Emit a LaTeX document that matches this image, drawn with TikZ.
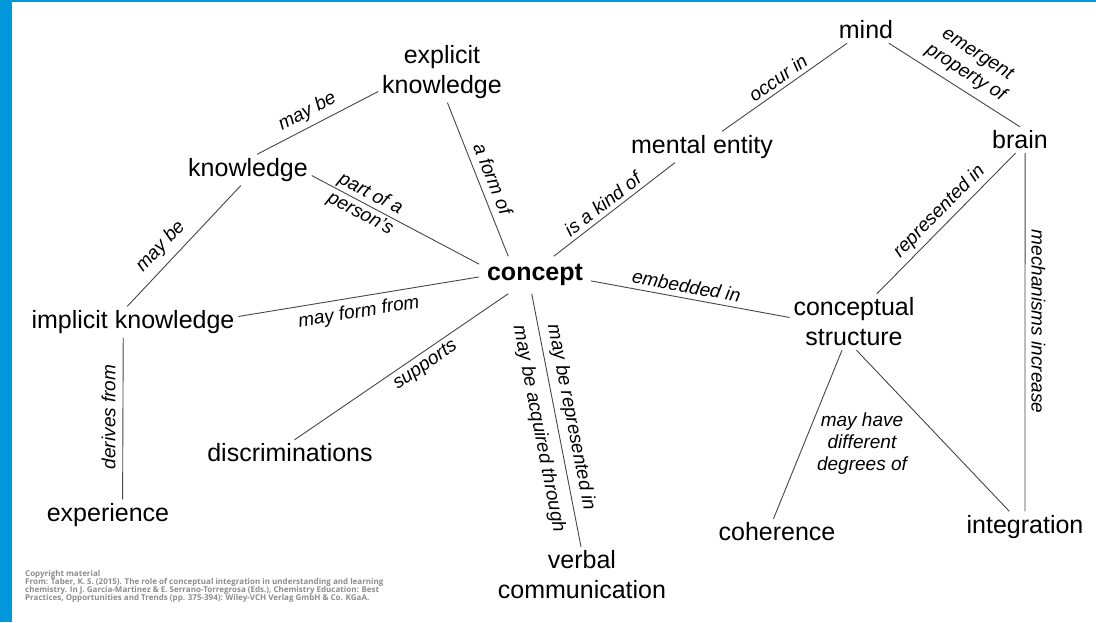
\documentclass[tikz,border=0pt]{standalone}
\usepackage{fontspec}
\setmainfont{Liberation Sans}
\newfontfamily\noteFont{Open Sans}
\usepackage{tikz,tkz-graph}
\definecolor{frameBlue}{RGB}{0,152,219}
\definecolor{lineGray}{RGB}{70,70,70}
\definecolor{noteGray}{RGB}{140,140,140}
\newcommand{\conceptSize}{\fontsize{25}{30}\selectfont}
\newcommand{\linkSize}{\fontsize{19}{22}\selectfont}
\tikzstyle{conceptBox}=[shape = rectangle, inner sep = 4pt, align = center, font = \conceptSize]
\tikzstyle{mainConcept}=[shape = rectangle, inner sep = 8pt, align = center, font = \conceptSize\bfseries]
\tikzstyle{linkText}=[font = \linkSize\itshape, inner sep = 4pt, fill = none, text = black]

\begin{document}
\begin{tikzpicture}[x = 1pt, y = 1pt]
\tikzstyle{VertexStyle} = []
\tikzstyle{EdgeStyle} = [draw = lineGray, line width = 0.9pt]
\tikzstyle{LabelStyle} = []
\useasboundingbox (0,0) rectangle (1096,622);
\fill[frameBlue] (0,0) rectangle (12,622);
\fill[frameBlue] (0,620) rectangle (1096,622);
\Vertex[style = conceptBox, x = 442, y = 550, L = {explicit\\knowledge}]{expl}
\Vertex[style = conceptBox, x = 248, y = 452, L = {knowledge}]{knw}
\Vertex[style = conceptBox, x = 133, y = 300, L = {implicit knowledge}]{impl}
\Vertex[style = conceptBox, x = 108, y = 107, L = {experience}]{exper}
\Vertex[style = conceptBox, x = 290, y = 169, L = {discriminations}]{discr}
\Vertex[style = mainConcept, x = 535, y = 347, L = {concept}]{conc}
\Vertex[style = conceptBox, x = 582, y = 47, L = {verbal\\communication}]{verb}
\Vertex[style = conceptBox, x = 702, y = 475, L = {mental entity}]{ment}
\Vertex[style = conceptBox, x = 866, y = 592, L = {mind}]{mind}
\Vertex[style = conceptBox, x = 1020, y = 482, L = {brain}]{brain}
\Vertex[style = conceptBox, x = 854, y = 300, L = {conceptual\\structure}]{cstr}
\Vertex[style = conceptBox, x = 777, y = 90, L = {coherence}]{coher}
\Vertex[style = conceptBox, x = 1025, y = 95, L = {integration}]{integ}
\Edge[label = {may be}, labelstyle = {linkText, sloped, above = 1pt, pos = .47}](knw.60)(expl.197)
\Edge[label = {may be}, labelstyle = {linkText, sloped, above = 3pt, pos = .6}](knw.245)(impl.110)
\Edge[label = {part of a\\person's}, labelstyle = {linkText, sloped, align = center, pos = .32}](knw.-5)(conc.169)
\Edge[label = {a form of}, labelstyle = {linkText, sloped, above = 3pt, pos = .53}](expl.-80)(conc.145)
\Edge[label = {may form from}, labelstyle = {linkText, sloped, below = 2.5pt, pos = .49}](impl.3)(conc.182)
\Edge[label = {derives from}, labelstyle = {linkText, rotate = 90, anchor = south, inner sep = 7pt, pos = .49}](impl.238)(exper.47)
\Edge[label = {supports}, labelstyle = {linkText, sloped, below = 0pt, pos = .58}](discr.71)(conc.215)
\Edge[label = {may be represented in}, labelstyle = {linkText, sloped, above = 1.5pt, pos = .5}](conc.260)(verb.92)
\path (conc.260) -- node[linkText, sloped, below = 6pt, pos = .52] (acqText) {may be acquired through} (verb.92);
\Edge[label = {is a kind of}, labelstyle = {linkText, sloped, above = 0pt, pos = .46}](conc.45)(ment.210)
\Edge[label = {occur in}, labelstyle = {linkText, sloped, above = 0pt, pos = .5}](ment.38)(mind.215)
\Edge[label = {emergent\\property of}, labelstyle = {linkText, sloped, align = center, above = 3pt, pos = .52}](mind.-30)(brain.90)
\Edge[label = {embedded in}, labelstyle = {linkText, sloped, above = 1pt, pos = .47}](conc.-6)(cstr.176)
\Edge[label = {represented in}, labelstyle = {linkText, sloped, above = 0pt, pos = .48}](brain.251)(cstr.51)
\Edge[label = {mechanisms increase}, labelstyle = {linkText, rotate = -90, anchor = south, inner sep = 6pt, pos = .47}](brain.-69)(integ.90)
\Edge(cstr.247)(coher.105)
\Edge(cstr.-85)(integ.135)
\node[linkText, align = center] (degText) at (862,178) {may have\\different\\degrees of};
% source note
\node[anchor = north west, inner sep = 0pt, align = left, text = noteGray,
      font = \noteFont\bfseries\fontsize{8}{8.2}\selectfont] (srcNote) at (25,52)
  {Copyright material\\
   From: Taber, K. S. (2015). The role of conceptual integration in understanding and learning\\
   chemistry. In J. Garcia-Martinez \& E. Serrano-Torregrosa (Eds.), Chemistry Education: Best\\
   Practices, Opportunities and Trends (pp. 375-394): Wiley-VCH Verlag GmbH \& Co. KGaA.};
\end{tikzpicture}
\end{document}
